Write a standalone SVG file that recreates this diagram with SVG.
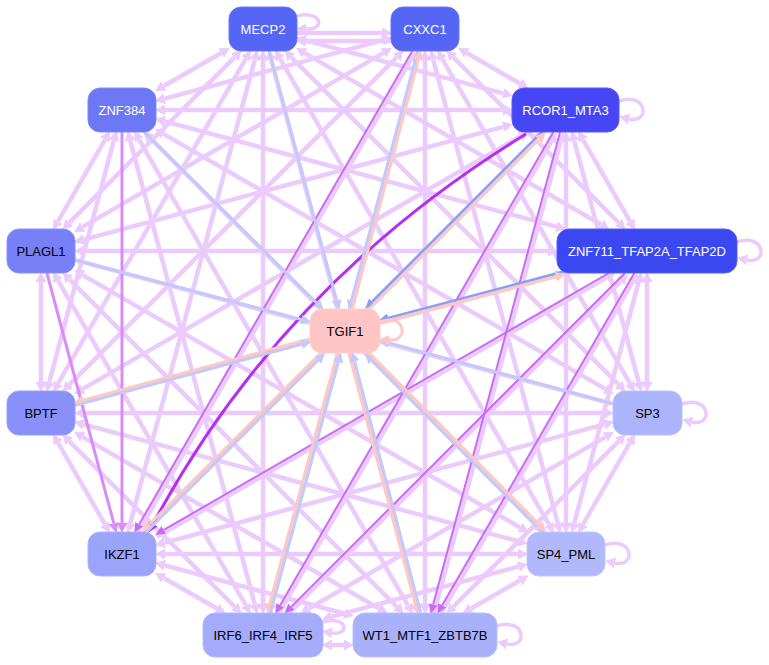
<svg xmlns="http://www.w3.org/2000/svg" width="769" height="665" viewBox="0 0 769 665">
<style>
.e{fill:none;stroke:#ebcbfc;stroke-width:4.5}
.bi{marker-start:url(#aL);marker-end:url(#aL)}
.un{marker-end:url(#aL)}
.lp{fill:none;stroke:#ebcbfc;stroke-width:3.5;marker-end:url(#aL)}
.vi{fill:none;stroke:#d98bf8;stroke-width:3;marker-end:url(#aV)}
.md{fill:none;stroke:#c86cf4;stroke-width:2;marker-end:url(#aM)}
.br{fill:none;stroke:#b52ef2;stroke-width:3;marker-end:url(#aB)}
.bl{fill:none;stroke:#c2c9fb;stroke-width:3;marker-end:url(#aBl)}
.db{fill:none;stroke:#8a9ff2;stroke-width:2.5;marker-end:url(#aDb)}
.pk{fill:none;stroke:#ffc8c2;stroke-width:3;marker-end:url(#aP)}
.pl{fill:none;stroke:#ffc8c2;stroke-width:3;marker-end:url(#aP)}
text{font-family:"Liberation Sans",Arial,Helvetica,sans-serif;font-size:13px;text-anchor:middle}
.w{fill:#ffffff}
.k{fill:#000000}
</style>
<defs>
<marker id="aL" viewBox="0 -5.5 10 11" refX="0" refY="0" markerWidth="10" markerHeight="11" markerUnits="userSpaceOnUse" orient="auto-start-reverse"><path d="M0,-5.5L10,0L0,5.5z" fill="#ebcbfc"/></marker>
<marker id="aV" viewBox="0 -5 10 10" refX="0" refY="0" markerWidth="10" markerHeight="10" markerUnits="userSpaceOnUse" orient="auto"><path d="M0,-5L10,0L0,5z" fill="#d98bf8"/></marker>
<marker id="aM" viewBox="0 -4.5 10 9" refX="0" refY="0" markerWidth="10" markerHeight="9" markerUnits="userSpaceOnUse" orient="auto"><path d="M0,-4.5L10,0L0,4.5z" fill="#c86cf4"/></marker>
<marker id="aB" viewBox="0 -5 10 10" refX="0" refY="0" markerWidth="10" markerHeight="10" markerUnits="userSpaceOnUse" orient="auto"><path d="M0,-5L10,0L0,5z" fill="#b52ef2"/></marker>
<marker id="aBl" viewBox="0 -5 10 10" refX="0" refY="0" markerWidth="10" markerHeight="10" markerUnits="userSpaceOnUse" orient="auto"><path d="M0,-5L10,0L0,5z" fill="#c2c9fb"/></marker>
<marker id="aDb" viewBox="0 -4.5 10 9" refX="0" refY="0" markerWidth="10" markerHeight="9" markerUnits="userSpaceOnUse" orient="auto"><path d="M0,-4.5L10,0L0,4.5z" fill="#8a9ff2"/></marker>
<marker id="aP" viewBox="0 -5 10 10" refX="0" refY="0" markerWidth="10" markerHeight="10" markerUnits="userSpaceOnUse" orient="auto"><path d="M0,-5L10,0L0,5z" fill="#ffc8c2"/></marker>
</defs>
<g id="connectors">
<g id="lavender">
<path class="e un" d="M297,33 L382,33"/>
<path class="e un" d="M391,41 L306,41"/>
<path class="e bi" d="M305.7,40.4 L503.3,93.3"/>
<path class="e bi" d="M304.8,53.1 L601.1,224.5"/>
<path class="e bi" d="M291.4,57.4 L618.6,384.6"/>
<path class="e bi" d="M280.2,58.8 L548.8,524.2"/>
<path class="e bi" d="M271.2,59.7 L416.8,604.3"/>
<path class="e bi" d="M263,60 L263,604"/>
<path class="e bi" d="M254.8,59.7 L130.2,523.3"/>
<path class="e bi" d="M245.8,58.8 L58.2,383.2"/>
<path class="e bi" d="M234.6,57.4 L69.4,222.6"/>
<path class="e bi" d="M221.2,53 L163.8,86"/>
<path class="e bi" d="M466.8,53 L519.9,83.5"/>
<path class="e bi" d="M453.4,57.4 L618.6,222.6"/>
<path class="e bi" d="M442.2,58.8 L629.8,383.2"/>
<path class="e bi" d="M433.2,59.7 L557.8,523.3"/>
<path class="e bi" d="M425,60 L425,604"/>
<path class="e bi" d="M416.8,59.7 L271.2,604.3"/>
<path class="e bi" d="M396.6,57.4 L69.4,384.6"/>
<path class="e bi" d="M383.2,53.1 L82.8,226.9"/>
<path class="e bi" d="M382.3,40.4 L164.7,98.6"/>
<path class="e bi" d="M583.1,139.8 L629.9,221.2"/>
<path class="e bi" d="M574.2,140.7 L638.8,382.3"/>
<path class="e bi" d="M566,141 L566,523"/>
<path class="e bi" d="M520.1,136.5 L82.8,388.9"/>
<path class="e bi" d="M503.3,126.8 L83.7,239.6"/>
<path class="e bi" d="M503,110 L165,110"/>
<path class="e bi" d="M647,282 L647,382"/>
<path class="e bi" d="M638.8,281.7 L574.2,523.3"/>
<path class="e bi" d="M556,275.3 L83.7,401.6"/>
<path class="e bi" d="M548,251 L84,251"/>
<path class="e bi" d="M556.4,226.7 L164.7,121.4"/>
<path class="e bi" d="M629.9,442.8 L583.1,524.2"/>
<path class="e bi" d="M618.6,441.4 L453.4,606.6"/>
<path class="e bi" d="M605.2,437.1 L308.9,608.5"/>
<path class="e bi" d="M604.3,424.4 L164.7,542.6"/>
<path class="e bi" d="M604,413 L84,413"/>
<path class="e bi" d="M604.3,401.6 L83.7,262.4"/>
<path class="e bi" d="M605.2,388.9 L163.8,134.1"/>
<path class="e bi" d="M519.9,580.5 L471.1,608.5"/>
<path class="e bi" d="M518.3,566.7 L331.7,616.7"/>
<path class="e bi" d="M518,554 L165,554"/>
<path class="e bi" d="M518.3,541.2 L83.7,424.4"/>
<path class="e bi" d="M520.1,527.5 L82.8,275.1"/>
<path class="e bi" d="M537.6,525.6 L150.4,138.4"/>
<path class="e bi" d="M332,645 L344,645"/>
<path class="e bi" d="M344.3,613.5 L164.7,565.4"/>
<path class="e bi" d="M379.1,608.5 L82.8,437.1"/>
<path class="e bi" d="M396.6,606.6 L69.4,279.4"/>
<path class="e bi" d="M407.8,605.2 L139.2,139.8"/>
<path class="e bi" d="M216.9,608.5 L163.8,578"/>
<path class="e bi" d="M234.6,606.6 L69.4,441.4"/>
<path class="e bi" d="M245.8,605.2 L58.2,280.8"/>
<path class="e bi" d="M254.8,604.3 L130.2,140.7"/>
<path class="e bi" d="M104.9,524.2 L58.1,442.8"/>
<path class="e bi" d="M41,382 L41,282"/>
<path class="e bi" d="M49.2,382.3 L113.8,140.7"/>
<path class="e bi" d="M58.1,221.2 L104.9,139.8"/>
<path class="e un" d="M157,537 L606.7,277.5"/>
<path class="e un" d="M144,532 L537.6,138.4"/>
<path class="e un" d="M278.3,614.5 L551.4,141.3"/>
<path class="e un" d="M433.8,613.8 L560.7,141.5"/>
<path class="e un" d="M287.1,615.1 L620.7,281.5"/>
<path class="e un" d="M440.3,614.5 L632.4,282.3"/>
<path class="e un" d="M137.3,533.5 L410.4,60.3"/>
<path class="lp" d="M297,16 C322,10 326,30 306,29"/>
<path class="lp" d="M619,101 C648,92 650,124 629,119"/>
<path class="lp" d="M737,242 C766,233 768,265 747,260"/>
<path class="lp" d="M682,404 C711,395 713,427 692,422"/>
<path class="lp" d="M605,545 C634,536 636,568 615,563"/>
<path class="lp" d="M497,626 C526,617 528,649 507,644"/>
<path class="lp" d="M323,622 C348,615 350,636 332,633"/>
</g>
<g id="violet">
<path class="vi" d="M122,132 L122,523"/>
<path class="vi" d="M46.9,273 L113.8,523.3"/>
<path class="md" d="M608.9,273 L163.8,529.9"/>
<path class="md" d="M553.3,132 L280.2,605.2"/>
<path class="md" d="M560.1,132 L433.2,604.3"/>
<path class="md" d="M625,273 L291.4,606.6"/>
<path class="md" d="M634.3,273 L442.2,605.2"/>
<path class="md" d="M412.3,51 L139.2,524.2"/>
<path class="br" d="M526,134 Q282,283 153,524"/>
</g>
<g id="tgif1-edges">
<path class="bl" d="M269,51 L336.6,300.3"/>
<path class="bl" d="M417.7,51 L351.6,300.3"/>
<path class="pk" d="M352.3,309 L418.4,59.7"/>
<path class="db" d="M542.9,130.9 L372.3,301.5"/>
<path class="pk" d="M368.1,310.1 L538.7,139.5"/>
<path class="db" d="M563.6,271.5 L388.3,317.9"/>
<path class="pk" d="M380.4,323.2 L555.7,276.8"/>
<path class="bl" d="M613,403.8 L388.7,342.9"/>
<path class="bl" d="M543.1,533.1 L372,360.5"/>
<path class="pk" d="M367.9,351.9 L539,524.5"/>
<path class="pk" d="M349.3,353.4 L415.4,604.7"/>
<path class="bl" d="M420.7,612.6 L354.6,361.3"/>
<path class="pk" d="M337.6,352.6 L269.7,603.9"/>
<path class="bl" d="M270.4,613.4 L338.3,362.1"/>
<path class="pk" d="M321.9,351.9 L149.3,524.5"/>
<path class="bl" d="M145.1,533.1 L317.7,360.5"/>
<path class="pk" d="M309.6,339 L83.3,400.2"/>
<path class="bl" d="M75.4,405.4 L301.7,344.1"/>
<path class="bl" d="M75,260 L301.3,319.5"/>
<path class="bl" d="M144.2,132 L316.4,302.7"/>
<path class="pl" d="M380,322 C405,312 410,342 389,340"/>
</g>
</g>
<g id="MECP2"><rect x="229" y="7" width="68" height="44" rx="12" fill="#5566f4" stroke="#6a78f6"/><text class="w" x="263" y="33.5">MECP2</text></g>
<g id="CXXC1"><rect x="391" y="7" width="68" height="44" rx="12" fill="#5566f4" stroke="#6a78f6"/><text class="w" x="425" y="33.5">CXXC1</text></g>
<g id="RCOR1_MTA3"><rect x="512" y="88" width="107" height="44" rx="12" fill="#4646f4" stroke="#5a5af6"/><text class="w" x="565.5" y="114.5">RCOR1_MTA3</text></g>
<g id="ZNF711_TFAP2A_TFAP2D"><rect x="557" y="229" width="180" height="44" rx="12" fill="#3b48f2" stroke="#5360f4"/><text class="w" x="647" y="255.5">ZNF711_TFAP2A_TFAP2D</text></g>
<g id="ZNF384"><rect x="88" y="88" width="68" height="44" rx="12" fill="#6c78f6" stroke="#7e89f7"/><text class="w" x="122" y="114.5">ZNF384</text></g>
<g id="PLAGL1"><rect x="7" y="229" width="68" height="44" rx="12" fill="#7880f8" stroke="#8a91f9"/><text class="k" x="41" y="255.5">PLAGL1</text></g>
<g id="BPTF"><rect x="7" y="391" width="68" height="44" rx="12" fill="#8990fa" stroke="#999ffb"/><text class="k" x="41" y="417.5">BPTF</text></g>
<g id="SP3"><rect x="613" y="391" width="69" height="44" rx="12" fill="#acb4fb" stroke="#bac1fc"/><text class="k" x="647.5" y="417.5">SP3</text></g>
<g id="IKZF1"><rect x="88" y="532" width="68" height="44" rx="12" fill="#9ba4fb" stroke="#aab2fc"/><text class="k" x="122" y="558.5">IKZF1</text></g>
<g id="SP4_PML"><rect x="527" y="532" width="78" height="44" rx="12" fill="#b1b8fc" stroke="#bfc5fd"/><text class="k" x="566" y="558.5">SP4_PML</text></g>
<g id="IRF6_IRF4_IRF5"><rect x="203" y="613" width="120" height="44" rx="12" fill="#a3abfa" stroke="#b2b9fb"/><text class="k" x="263" y="639.5">IRF6_IRF4_IRF5</text></g>
<g id="WT1_MTF1_ZBTB7B"><rect x="353" y="613" width="144" height="44" rx="12" fill="#aab1fb" stroke="#b8befc"/><text class="k" x="425" y="639.5">WT1_MTF1_ZBTB7B</text></g>
<g id="TGIF1"><rect x="310" y="309" width="70" height="44" rx="12" fill="#ffc4c4" stroke="#ffd0d0"/><text class="k" x="345" y="335.5">TGIF1</text></g>
</svg>
